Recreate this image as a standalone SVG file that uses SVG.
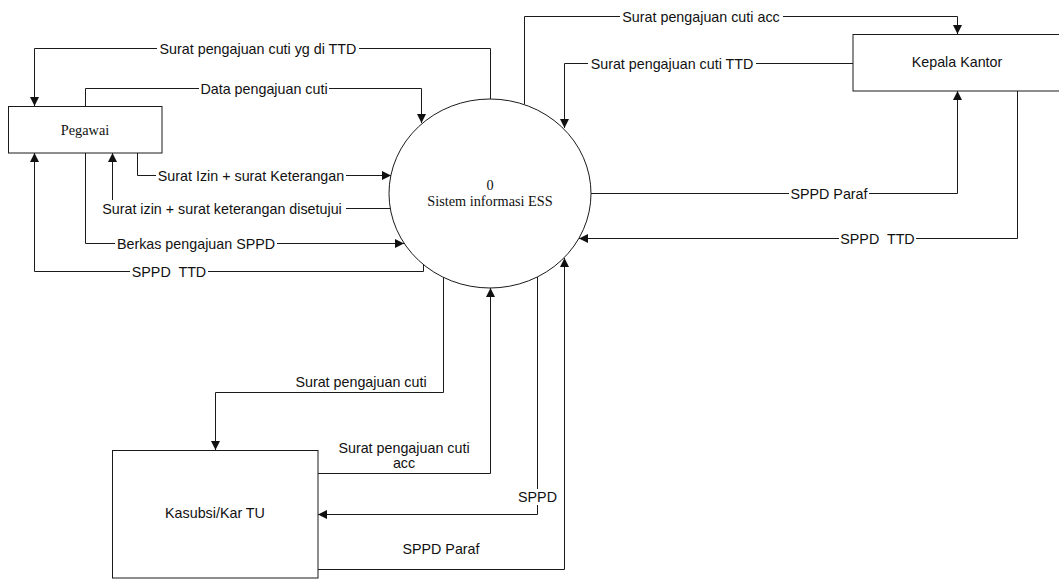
<svg xmlns="http://www.w3.org/2000/svg" width="1059" height="579" viewBox="0 0 1059 579">
  <style>
    .box { fill: #ffffff; stroke: #1a1a1a; stroke-width: 1; }
    .flow { fill: none; stroke: #1a1a1a; stroke-width: 1; marker-end: url(#arrow); }
    .plain { fill: none; stroke: #1a1a1a; stroke-width: 1; }
    .lbg { fill: #ffffff; stroke: none; }
    .lbl { font-family: "Liberation Sans", Arial, sans-serif; font-size: 14.3px; fill: #111111; text-anchor: middle; white-space: pre; }
    .serif { font-family: "Liberation Serif", "Times New Roman", serif; font-size: 14.3px; fill: #111111; text-anchor: middle; }
  </style>
  <defs>
    <marker id="arrow" viewBox="0 0 10 10" refX="10" refY="5" markerWidth="9" markerHeight="9" markerUnits="userSpaceOnUse" orient="auto">
      <path d="M0,0 L10,5 L0,10 z" fill="#111111"/>
    </marker>
  </defs>
  <rect width="1059" height="579" fill="#ffffff"/>

  <!-- data flows -->
  <g id="connectors">
    <path class="flow" d="M490.5,99 V48.5 H34.5 V106"/>
    <path class="flow" d="M85.5,106 V88.5 H421.5 V123"/>
    <path class="flow" d="M137.5,153 V175.5 H391"/>
    <path class="flow" d="M390,208.5 H112.5 V153"/>
    <path class="flow" d="M85.5,153 V243.5 H404"/>
    <path class="flow" d="M423.5,263 V271.5 H34.5 V153"/>
    <path class="flow" d="M524.5,104 V16.5 H957.5 V34"/>
    <path class="flow" d="M853,63.5 H564.5 V128"/>
    <path class="flow" d="M591,193.5 H957.5 V91"/>
    <path class="flow" d="M1017.5,91 V238.5 H579"/>
    <path class="flow" d="M443.5,277 V392.5 H215.5 V450"/>
    <path class="flow" d="M318,473.5 H490.5 V288"/>
    <path class="flow" d="M537.5,277 V514.5 H318"/>
    <path class="flow" d="M318,569.5 H564.5 V258"/>

    <!-- flow labels -->
    <rect class="lbg" x="157" y="40" width="202" height="16"/>
    <text class="lbl" x="258" y="53.5">Surat pengajuan cuti yg di TTD</text>
    <rect class="lbg" x="199" y="80" width="130" height="16"/>
    <text class="lbl" x="264" y="93.5">Data pengajuan cuti</text>
    <rect class="lbg" x="156" y="167" width="190" height="16"/>
    <text class="lbl" x="251" y="180.5">Surat Izin + surat Keterangan</text>
    <rect class="lbg" x="98" y="200" width="248" height="17"/>
    <text class="lbl" x="222" y="213.5">Surat izin + surat keterangan disetujui</text>
    <rect class="lbg" x="115" y="235" width="162" height="16"/>
    <text class="lbl" x="196" y="248.5">Berkas pengajuan SPPD</text>
    <rect class="lbg" x="130" y="263" width="78" height="16"/>
    <text class="lbl" x="169" y="276.5">SPPD  TTD</text>
    <rect class="lbg" x="620" y="8" width="163" height="16"/>
    <text class="lbl" x="701" y="21.5">Surat pengajuan cuti acc</text>
    <rect class="lbg" x="588" y="55" width="168" height="16"/>
    <text class="lbl" x="672" y="68.5">Surat pengajuan cuti TTD</text>
    <rect class="lbg" x="789" y="185" width="80" height="16"/>
    <text class="lbl" x="829" y="198.5">SPPD Paraf</text>
    <rect class="lbg" x="839" y="230" width="77" height="16"/>
    <text class="lbl" x="877.5" y="243.5">SPPD  TTD</text>
    <text class="lbl" x="361" y="387">Surat pengajuan cuti</text>
    <text class="lbl" x="404" y="452.5">Surat pengajuan cuti</text>
    <text class="lbl" x="404" y="468">acc</text>
    <rect class="lbg" x="516" y="489" width="43" height="16"/>
    <text class="lbl" x="537.5" y="502">SPPD</text>
    <text class="lbl" x="441" y="554">SPPD Paraf</text>
  </g>

  <!-- external entities and process -->
  <g id="pegawai">
    <rect class="box" x="8.5" y="106.5" width="153.5" height="46.5"/>
    <text class="serif" x="85" y="135">Pegawai</text>
  </g>

  <g id="sistem-ess">
    <ellipse class="box" cx="490" cy="193.5" rx="101" ry="94.5"/>
    <text class="serif" x="490" y="190">0</text>
    <text class="serif" x="490" y="206">Sistem informasi ESS</text>
  </g>

  <g id="kepala-kantor">
    <rect class="box" x="853" y="34.5" width="220" height="56.5"/>
    <text class="lbl" x="957" y="67">Kepala Kantor</text>
  </g>

  <g id="kasubsi">
    <rect class="box" x="112.5" y="450.5" width="205.5" height="127.5"/>
    <text class="lbl" x="215" y="518">Kasubsi/Kar TU</text>
  </g>
</svg>
